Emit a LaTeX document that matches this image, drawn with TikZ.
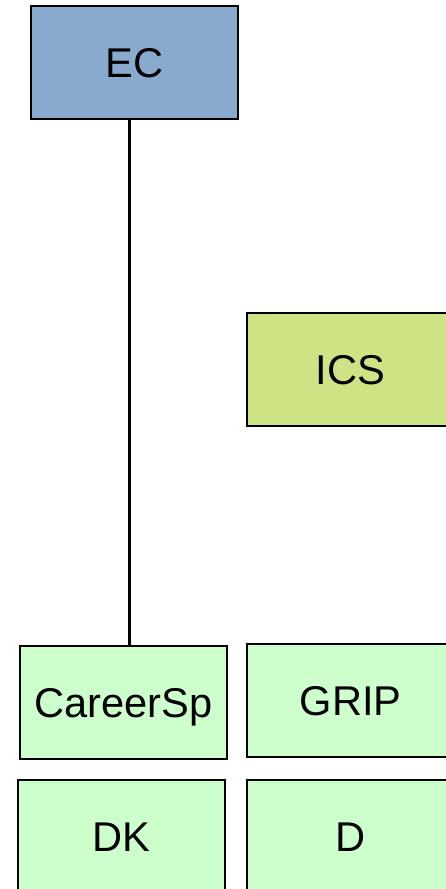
\documentclass[tikz,border=0pt]{standalone}
\usepackage{fontspec}
\setmainfont{Liberation Sans}
\definecolor{ecblue}{HTML}{88AACE}
\definecolor{icsgreen}{HTML}{CDE384}
\definecolor{unitgreen}{HTML}{CCFFCC}
\begin{document}
\begin{tikzpicture}[x=1pt,y=-1pt,
  unit/.style={draw=black, line width=1.4pt, rectangle,
    minimum width=207pt, minimum height=113pt, inner sep=0pt,
    text height=29.8pt, text depth=0pt,
    font=\fontsize{41.6}{50}\selectfont},
  link/.style={line width=2.6pt}]
\useasboundingbox (0,0) rectangle (446,889);
\node[unit, fill=ecblue]    (ec)  at (134.5,62.5)  {EC};
\node[unit, fill=icsgreen]  (ics) at (350.5,369.5) {ICS};
\node[unit, fill=unitgreen] (csp) at (123.5,702.5) {CareerSp};
\node[unit, fill=unitgreen] (grip) at (350.5,700.5) {GRIP};
\node[unit, fill=unitgreen] (dk)  at (121.5,836.5) {DK};
\node[unit, fill=unitgreen] (d)   at (350.5,836.5) {D};
\draw[link] (ec.south -| 129.5,0) -- (csp.north -| 129.5,0);
\end{tikzpicture}
\end{document}
